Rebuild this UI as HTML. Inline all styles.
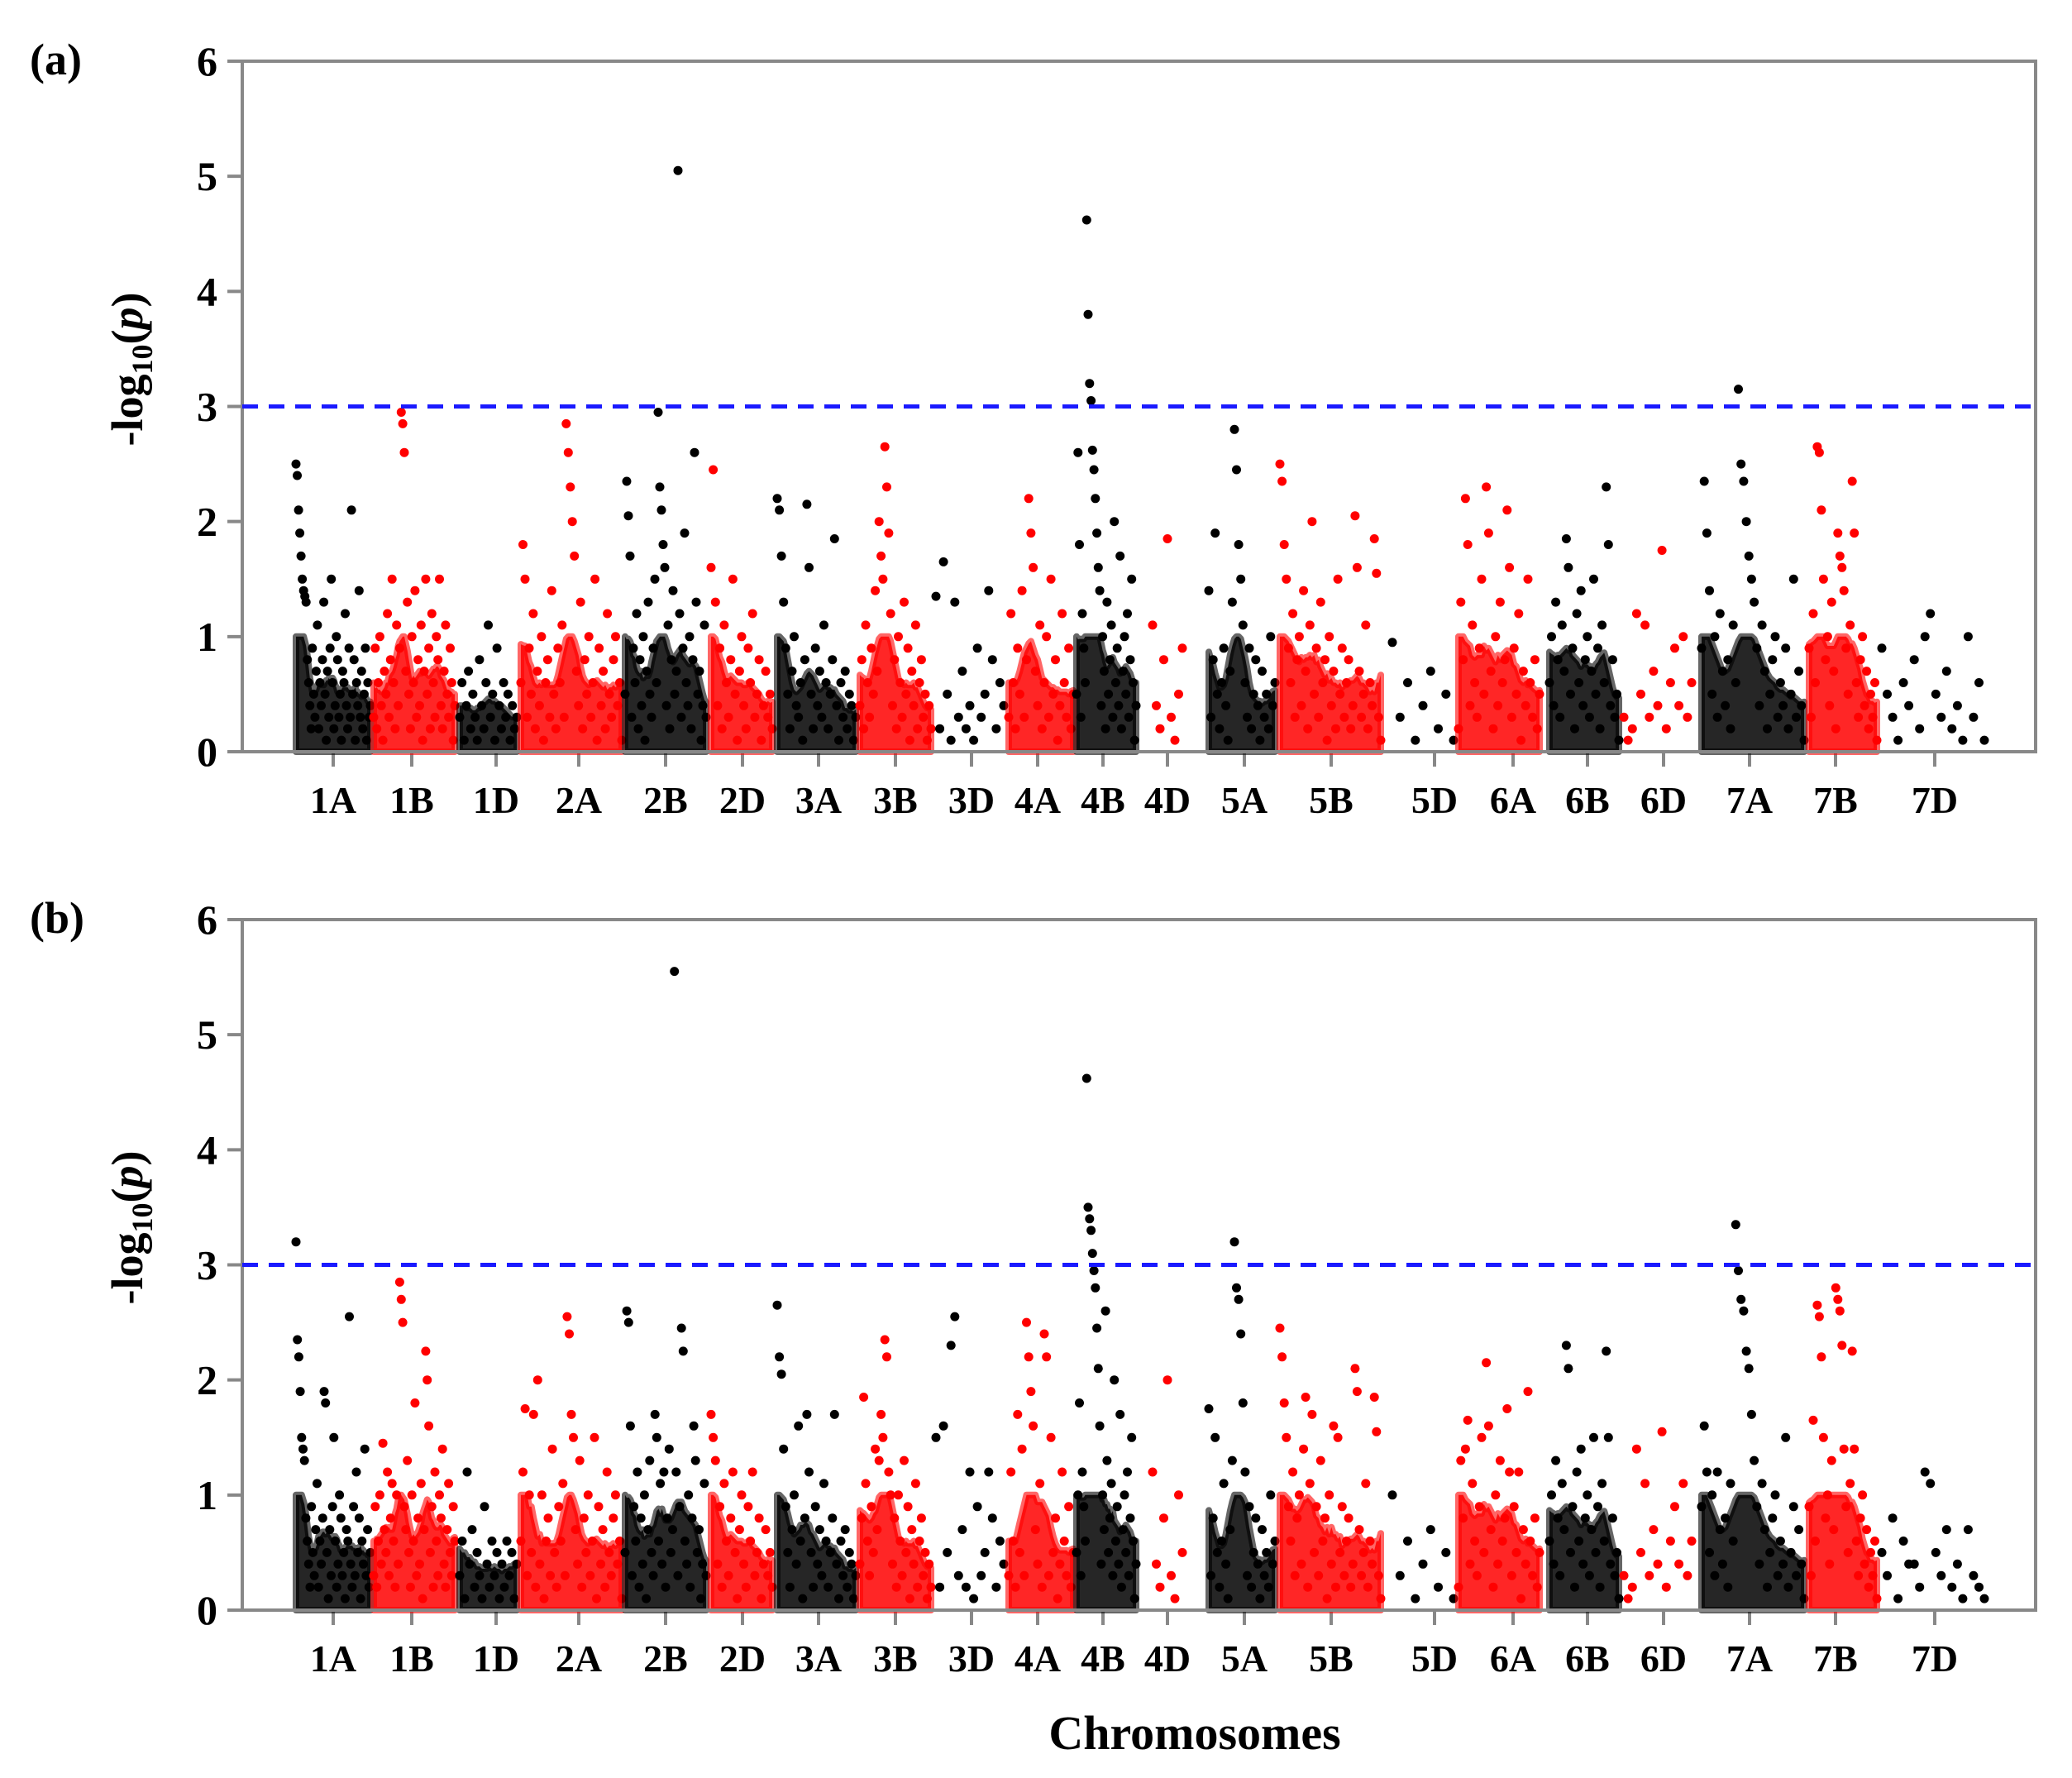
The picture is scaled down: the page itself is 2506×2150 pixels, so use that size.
<!DOCTYPE html>
<html><head><meta charset="utf-8"><style>
html,body{margin:0;padding:0;background:#fff;}
svg{display:block;}
text{font-family:"Liberation Serif",serif;font-weight:bold;fill:#000;}
</style></head><body>
<svg id="chart" width="2506" height="2150" viewBox="0 0 2506 2150" xmlns="http://www.w3.org/2000/svg"></svg>
<script>
const chromosomes=["1A","1B","1D","2A","2B","2D","3A","3B","3D","4A","4B","4D","5A","5B","5D","6A","6B","6D","7A","7B","7D"];
const yTicks=[0,1,2,3,4,5,6];
const threshold=3;
const panelLabels=["(a)","(b)"];
// -log10(p) values per chromosome, panel a
const valuesA=[
[2.5,2.4,2.1,1.9,1.7,1.5,1.4,1.35,1.3,0.8,0.6,0.4,0.2,0.9,0.5,0.3,0.7,1.1,0.2,0.6,0.4,0.8,1.3,0.5,0.1,0.7,0.3,0.9,1.5,0.6,0.2,0.4,1.0,0.8,0.3,0.5,0.1,0.7,0.6,1.2,0.4,0.2,0.9,0.3,2.1,0.5,0.8,0.1,0.6,0.4,1.4,0.3,0.7,0.2,0.5,0.9,0.1,0.6,0.3,0.4],
[0.3,0.9,0.2,0.6,1.0,0.4,0.1,0.7,0.5,1.2,0.3,0.8,1.5,0.6,0.2,1.1,0.4,0.9,2.95,2.85,2.6,0.7,1.3,0.5,0.2,1.0,0.6,1.4,0.3,0.8,0.4,1.1,0.1,0.7,1.5,0.5,0.9,0.2,1.2,0.6,0.3,1.0,0.8,1.5,0.4,0.2,0.7,1.1,0.5,0.3,0.9,0.6,0.1,0.4],
[0.3,0.6,0.1,0.4,0.7,0.2,0.5,0.3,0.1,0.8,0.4,0.2,0.6,1.1,0.3,0.5,0.1,0.9,0.4,0.2,0.6,0.3,0.5,0.1,0.4,0.2,0.3],
[0.6,1.8,1.5,0.3,0.9,0.5,1.2,0.2,0.7,0.4,1.0,0.1,0.6,0.8,0.3,1.4,0.5,0.2,0.9,0.6,1.1,0.3,2.85,2.6,2.3,2.0,1.7,0.7,0.4,1.3,0.2,0.8,0.5,1.0,0.3,0.6,1.5,0.1,0.9,0.4,0.7,0.2,1.2,0.5,0.3,0.8,1.0,0.4,0.6,0.1],
[0.5,2.35,2.05,1.7,0.3,0.9,0.6,1.2,0.2,0.8,0.4,1.0,0.1,0.7,1.3,0.5,0.3,0.9,1.5,0.6,2.95,2.3,2.1,1.8,1.6,0.4,1.1,0.2,0.8,1.4,0.5,0.7,5.05,1.2,0.3,0.9,1.9,0.6,0.4,1.0,0.2,0.8,2.6,1.3,0.5,0.7,0.1,0.4,1.1,0.3],
[1.6,2.45,1.3,0.4,0.9,0.2,1.1,0.6,0.3,0.8,1.5,0.5,0.1,0.7,1.0,0.4,0.2,0.9,0.6,1.2,0.3,0.5,0.8,0.1,0.4,0.7,0.3,0.5,0.2],
[2.2,2.1,1.7,1.3,0.9,0.5,0.2,0.7,1.0,0.4,0.3,0.6,0.1,0.8,2.15,1.6,0.5,0.2,0.9,0.4,0.7,0.3,1.1,0.6,0.2,0.5,0.8,1.85,0.4,0.1,0.6,0.3,0.7,0.2,0.5,0.4,0.1,0.3],
[0.4,0.8,0.2,1.1,0.6,0.3,0.9,0.5,1.4,0.7,2.0,1.7,1.5,2.65,2.3,1.9,1.2,0.4,0.8,0.2,1.0,0.6,0.3,1.3,0.5,0.9,0.1,0.7,0.4,1.1,0.2,0.6,0.8,0.3,0.5,0.1,0.4,0.2],
[1.35,0.2,1.65,0.5,0.1,1.3,0.3,0.7,0.2,0.4,0.1,0.9,0.3,0.5,1.4,0.8,0.2,0.6,0.4],
[0.3,1.2,0.6,0.2,0.9,0.5,1.4,0.3,0.8,2.2,1.9,1.6,0.7,0.4,1.1,0.2,0.6,1.0,0.3,1.5,0.5,0.8,0.1,0.4,1.2,0.6,0.3,0.9,0.2,0.5],
[0.5,2.6,1.8,0.3,1.2,0.9,0.6,4.62,3.8,3.2,3.05,2.62,2.45,2.2,1.9,1.6,1.4,0.4,1.0,0.7,0.2,1.3,0.5,0.8,1.1,0.3,2.0,0.6,0.9,0.4,1.7,0.2,0.7,1.0,0.5,1.2,0.3,0.8,1.5,0.6,0.1,0.4],
[1.1,0.4,0.2,0.8,1.85,0.3,0.1,0.5,0.9],
[1.4,0.3,0.8,1.9,0.5,0.2,0.6,0.9,0.4,0.1,0.7,1.3,2.8,2.45,1.8,1.5,1.1,0.6,0.3,0.9,0.2,0.5,0.8,0.4,0.1,0.7,0.3,0.5,0.2,1.0,0.4,0.6],
[2.5,2.35,1.8,1.5,0.9,0.6,1.2,0.3,0.8,1.0,0.4,1.4,0.7,0.2,1.1,2.0,0.5,0.9,0.3,1.3,0.6,0.8,0.1,1.0,0.4,0.7,0.2,1.5,0.5,0.9,0.3,0.6,0.8,0.2,0.4,2.05,1.6,0.7,0.3,0.5,1.1,0.2,0.6,0.4,1.85,1.55,0.3,0.1],
[0.95,0.3,0.6,0.1,0.4,0.7,0.2,0.5,0.1],
[0.2,1.3,0.8,2.2,1.8,0.4,1.1,0.6,0.3,0.9,1.5,0.5,2.3,1.9,0.7,0.2,1.0,0.4,1.3,0.6,0.8,2.1,1.6,0.3,0.9,0.5,1.2,0.1,0.7,0.4,1.5,0.6,0.3,0.8,0.2,0.5],
[0.6,1.0,0.4,1.3,0.8,0.3,1.1,0.7,1.85,1.6,0.5,0.9,0.2,1.2,0.6,1.4,0.4,0.8,1.0,0.3,0.7,1.5,0.5,0.9,0.2,1.1,0.6,2.3,1.8,0.4,0.8,0.3,0.5,0.1],
[0.3,0.1,0.2,1.2,0.5,1.1,0.3,0.7,0.4,1.75,0.2,0.6,0.9,0.4,1.0,0.3,0.6],
[0.9,2.35,1.9,1.4,0.5,1.0,0.3,1.2,0.7,0.4,0.8,0.2,1.1,0.6,3.15,2.5,2.35,2.0,1.7,1.5,1.3,0.9,0.4,1.1,0.7,0.2,0.5,0.8,1.0,0.3,0.6,0.4,0.9,0.2,0.5,1.5,0.3,0.7,0.4,0.1],
[0.9,0.3,1.2,0.6,2.65,2.6,2.1,1.5,0.8,1.0,0.4,1.3,0.7,0.2,1.9,1.7,1.6,1.4,0.9,0.5,1.1,2.35,1.9,0.6,0.3,0.8,1.0,0.4,0.7,0.2,0.5,0.3,0.6,0.1],
[0.9,0.5,0.3,0.1,0.6,0.4,0.8,0.2,1.0,1.2,0.5,0.3,0.7,0.2,0.4,0.1,1.0,0.3,0.6,0.1]
];
// -log10(p) values per chromosome, panel b
const valuesB=[
[3.2,2.35,2.2,1.9,1.5,1.4,1.3,0.8,0.6,0.4,0.2,0.9,0.5,0.3,0.7,1.1,0.2,0.6,0.4,0.8,1.9,1.8,0.5,0.1,0.7,0.3,0.9,1.5,0.6,0.2,0.4,1.0,0.8,0.3,0.5,0.1,0.7,0.6,2.55,0.4,0.2,0.9,0.3,1.2,0.5,0.8,0.1,0.6,0.4,1.4,0.3,0.7,0.2,0.5],
[0.3,0.9,0.2,0.6,1.0,0.4,1.45,0.7,0.5,1.2,0.3,0.8,1.1,0.6,0.2,1.0,0.4,2.85,2.7,2.5,0.9,0.7,1.3,0.5,0.2,1.0,0.6,1.8,0.3,0.8,0.4,1.1,0.1,0.7,2.25,2.0,1.6,0.5,0.9,0.2,1.2,0.6,0.3,1.0,0.8,1.4,0.4,0.2,0.7,1.1,0.5,0.3,0.9,0.6],
[0.3,0.6,0.1,1.2,0.4,0.7,0.2,0.5,0.3,0.1,0.9,0.4,0.2,0.6,0.3,0.5,0.1,0.4,0.2,0.6,0.3,0.5,0.1,0.4],
[0.6,1.2,1.75,0.3,1.0,0.5,1.7,0.2,2.0,0.4,1.0,0.1,0.6,0.8,0.3,1.4,0.5,0.2,0.9,0.6,1.1,0.3,2.55,2.4,1.7,1.5,0.7,0.4,1.3,0.2,0.8,0.5,1.0,0.3,0.6,1.5,0.1,0.9,0.4,0.7,0.2,1.2,0.5,0.3,0.8,1.0,0.4,0.6,0.1],
[0.5,2.6,2.5,1.6,0.3,0.9,0.6,1.2,0.2,0.8,0.4,1.0,0.1,0.7,1.3,0.5,0.3,1.7,1.5,0.6,1.1,0.4,1.2,0.2,0.8,1.4,0.5,0.7,5.55,1.2,0.3,0.9,2.45,2.25,0.6,0.4,1.0,0.2,0.8,1.6,1.3,0.5,0.7,0.1,0.4,1.1,0.3],
[1.7,1.5,1.3,0.4,0.9,0.2,1.1,0.6,0.3,0.8,1.2,0.5,0.1,0.7,1.0,0.4,0.2,0.9,0.6,1.2,0.3,0.5,0.8,0.1,0.4,0.7,0.3,0.5,0.2],
[2.65,2.2,2.05,1.4,0.9,0.5,0.2,0.7,1.0,0.4,1.6,0.6,0.1,0.8,1.7,1.2,0.5,0.2,0.9,0.4,0.7,0.3,1.1,0.6,0.2,0.5,0.8,1.7,0.4,0.1,0.6,0.3,0.7,0.2,0.5,0.4,0.1,0.3],
[0.4,0.8,1.85,1.1,0.6,0.3,0.9,0.5,1.4,0.7,1.3,1.7,1.5,2.35,2.2,1.2,1.0,0.4,0.8,0.2,1.0,0.6,0.3,1.3,0.5,0.9,0.1,0.7,0.4,1.1,0.2,0.6,0.8,0.3,0.5,0.1,0.4,0.2],
[1.5,0.2,1.6,0.5,2.3,2.55,0.3,0.7,0.2,1.2,0.1,0.9,0.3,0.5,1.2,0.8,0.2,0.6,0.4],
[0.3,1.2,0.6,0.2,1.7,0.5,1.4,0.3,2.5,2.2,1.9,1.6,0.7,0.4,1.1,0.2,2.4,2.2,0.3,1.5,0.5,0.8,0.1,0.4,1.2,0.6,0.3,0.9,0.2,0.5],
[0.5,1.0,1.8,0.3,1.2,0.9,0.6,4.62,3.5,3.4,3.3,3.1,2.95,2.8,2.45,2.1,1.6,0.4,1.0,0.7,2.6,1.3,0.5,0.8,1.1,0.3,2.0,0.6,0.9,0.4,1.7,0.2,0.7,1.0,0.5,1.2,0.3,0.8,1.5,0.6,0.1,0.4],
[1.2,0.4,0.2,0.8,2.0,0.3,0.1,1.0,0.5],
[1.75,0.3,0.8,1.5,0.5,0.2,0.6,1.1,0.4,0.1,0.7,1.3,3.2,2.8,2.7,2.4,1.8,1.2,0.3,0.9,0.2,0.5,0.8,0.4,0.1,0.7,0.3,0.5,0.2,1.0,0.4,0.6],
[2.45,2.2,1.8,1.5,0.9,0.6,1.2,0.3,0.8,1.0,0.4,1.4,1.85,0.2,1.1,1.7,0.5,0.9,0.3,1.3,0.6,0.8,0.1,1.0,0.4,1.6,0.2,1.5,0.5,0.9,0.3,0.6,0.8,0.2,0.4,2.1,1.9,0.7,0.3,0.5,1.1,0.2,0.6,0.4,1.85,1.55,0.3,0.1],
[1.0,0.3,0.6,0.1,0.4,0.7,0.2,0.5,0.1],
[0.2,1.3,0.8,1.4,1.65,0.4,1.1,0.6,0.3,0.9,1.5,0.5,2.15,1.6,0.7,0.2,1.0,0.4,1.3,0.6,0.8,1.75,1.2,0.3,0.9,0.5,1.2,0.1,0.7,0.4,1.9,0.6,0.3,0.8,0.2,0.5],
[0.6,1.0,0.4,1.3,0.8,0.3,1.1,0.7,2.3,2.1,0.5,0.9,0.2,1.2,0.6,1.4,0.4,0.8,1.0,0.3,0.7,1.5,0.5,0.9,0.2,1.1,0.6,2.25,1.5,0.4,0.8,0.3,0.5,0.1],
[0.3,0.1,0.2,1.4,0.5,1.1,0.3,0.7,0.4,1.55,0.2,0.6,0.9,0.4,1.1,0.3,0.6],
[0.9,1.6,1.2,0.5,1.0,0.3,1.2,0.7,0.4,0.8,0.2,1.1,0.6,3.35,2.95,2.7,2.6,2.25,2.1,1.7,1.3,0.9,0.4,1.1,0.7,0.2,0.5,0.8,1.0,0.3,0.6,0.4,1.5,0.2,0.5,0.9,0.3,0.7,0.4,0.1],
[0.9,0.3,1.65,0.6,2.65,2.55,2.2,1.5,0.8,1.0,0.4,1.3,0.7,2.8,2.7,2.6,2.3,1.4,0.9,0.5,1.1,2.25,1.4,0.6,0.3,0.8,1.0,0.4,0.7,0.2,0.5,0.3,0.6,0.1],
[0.5,0.3,0.8,0.1,0.6,0.4,0.4,0.2,1.2,1.1,0.5,0.3,0.7,0.2,0.4,0.1,0.7,0.3,0.2,0.1]
];
const NS="http://www.w3.org/2000/svg";
const svg=document.getElementById('chart');
const X0=293,X1=2462;
const spans=[[358,448],[452,550],[556,625],[630,752],[756,854],[860,934],[940,1035],[1040,1126],[1132,1214],[1220,1298],[1302,1374],[1394,1430],[1462,1542],[1548,1670],[1684,1758],[1764,1862],[1874,1958],[1964,2046],[2058,2182],[2188,2270],[2276,2400]];
const tickX=[403,498,600,700,805,898,990,1083,1175,1255,1334,1412,1505,1610,1735,1830,1920,2012,2116,2220,2340];
function mk(tag,attrs,parent){const e=document.createElementNS(NS,tag);for(const k in attrs)e.setAttribute(k,attrs[k]);(parent||svg).appendChild(e);return e;}
function rawEnv(vals,j){
  const w=[];for(let k=Math.max(0,j-3);k<=Math.min(vals.length-1,j+3);k++)w.push(vals[k]);
  w.sort((a,b)=>a-b);
  return Math.min(w[Math.floor(w.length*0.5)],1.0);
}
function envelope(vals){
  const r=vals.map((v,j)=>rawEnv(vals,j));
  return r.map((v,j)=>{let s=0,c=0;for(let k=Math.max(0,j-2);k<=Math.min(r.length-1,j+2);k++){s+=r[k];c++;}return s/c;});
}
function drawPanel(top,bottom,values,label,pid){
  const g=mk('g',{});
  
  
  const yS=v=>bottom-(v/6)*(bottom-top);
  yTicks.forEach(t=>{
    const y=yS(t);
    const tl=mk('line',{x1:X0-18,x2:X0,y1:y,y2:y,stroke:'#888',"stroke-width":4},g);
    
    
    const tx=mk('text',{x:X0-30,y:y+17,"text-anchor":"end","font-size":50},g);
    tx.textContent=t;
    
    
  });
  chromosomes.forEach((c,i)=>{
    const tk=mk('line',{x1:tickX[i],x2:tickX[i],y1:bottom,y2:bottom+18,stroke:'#888',"stroke-width":4},g);
    
    
    const lt=mk('text',{x:tickX[i],y:bottom+74,"text-anchor":"middle","font-size":46},g);
    lt.textContent=c;
    
    
    const vals=values[i],[a,b]=spans[i],n=vals.length;
    const col=(i%2===0)?'#000':'#f00';
    const xAt=j=>a+(b-a)*(n>1?j/(n-1):0.5);
    if(n>=22){
      const env=envelope(vals);
      let d=`M${a},${bottom}`;
      env.forEach((e,j)=>{d+=` L${xAt(j).toFixed(1)},${yS(e).toFixed(1)}`;});
      d+=` L${b},${bottom} Z`;
      const dens=mk('path',{d:d,fill:col,"fill-opacity":0.85,stroke:col,"stroke-width":8,"stroke-linejoin":"round","stroke-opacity":0.6},g);
      
      
    }
    vals.forEach((v,j)=>{
      const p=mk('circle',{cx:xAt(j).toFixed(1),cy:yS(v).toFixed(1),r:5.5,fill:col},g);
      
      
    });
  });
  const frame=mk('rect',{x:X0,y:top,width:X1-X0,height:bottom-top,fill:'none',stroke:'#888',"stroke-width":4},g);
  
  
  const th=mk('line',{x1:X0,x2:X1,y1:yS(threshold),y2:yS(threshold),stroke:'#1a1aff',"stroke-width":5,"stroke-dasharray":"19 13"},g);
  
  
  const pl=mk('text',{x:36,y:top+16,"font-size":54},g);
  pl.textContent=label;
  
  
  const cy=(top+bottom)/2-45;
  const yl=mk('text',{x:0,y:0,"text-anchor":"middle","font-size":54,transform:`translate(172,${cy}) rotate(-90)`},g);
  
  
  yl.innerHTML='-log<tspan font-size="36" dy="12">10</tspan><tspan dy="-12">(</tspan><tspan font-style="italic">p</tspan>)';
}
drawPanel(74,909,valuesA,panelLabels[0],'a');
drawPanel(1112,1947,valuesB,panelLabels[1],'b');
const xt=mk('text',{x:1445,y:2115,"text-anchor":"middle","font-size":58});
xt.textContent='Chromosomes';


</script>
</body></html>
